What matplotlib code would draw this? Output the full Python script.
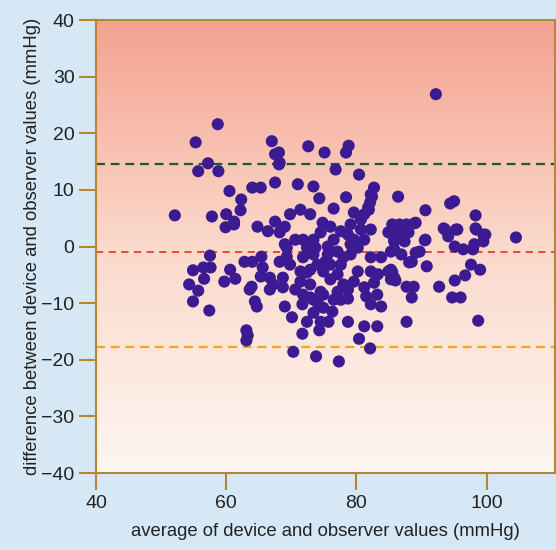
import numpy as np
import matplotlib
matplotlib.use('Agg')
import matplotlib.pyplot as plt
from matplotlib.colors import LinearSegmentedColormap

plt.rcParams['font.family'] = ['Liberation Sans', 'DejaVu Sans']

# average of device and observer values (mmHg)
avg = [52.1, 55.3, 58.7, 57.2, 55.7, 58.8, 60.5, 62.3, 62.2, 57.8,
       60.0, 61.2, 59.9, 64.8, 66.4, 64.0, 65.3, 67.5, 67.0, 67.5,
       68.1, 68.1, 72.6, 75.1, 78.4, 78.8, 76.8, 80.4, 71.0, 73.4,
       74.3, 78.4, 76.5, 82.7, 82.4, 82.1, 81.9, 86.4, 90.6, 94.4,
       95.0, 98.3, 104.5, 92.2, 98.4, 99.5, 93.6, 95.3, 90.6, 95.1,
       96.4, 97.9, 90.8, 97.6, 99.0, 88.1, 89.1, 89.1, 88.9, 90.5,
       93.4, 94.1, 95.5, 98.3, 99.8, 99.5, 98.1, 96.7, 95.1, 92.7,
       94.7, 96.0, 98.7, 87.7, 88.5, 87.7, 88.8, 88.5, 89.7,
       57.5, 54.9, 56.5, 57.6, 56.6, 54.3, 55.7, 54.9, 57.4, 60.6,
       61.4, 59.7, 63.1, 63.3, 63.1, 62.8, 64.0, 65.4, 65.6, 65.3,
       63.9, 63.6, 66.7, 64.4, 64.7, 61.2, 68.2, 82.2, 81.8, 81.2,
       80.7, 71.4, 69.8, 72.9, 67.5, 69.0, 79.6, 79.1, 74.8, 76.0,
       78.7, 80.7, 82.2, 81.2, 84.9, 85.8, 73.4, 74.5, 71.8, 68.2,
       69.0, 69.0, 70.1, 71.7, 74.3, 70.3, 73.8, 77.3, 78.7, 81.2,
       83.2, 80.4, 82.1, 78.7, 81.5, 83.2, 82.2, 83.8, 67.2, 66.7,
       68.7, 70.6, 71.4, 72.9, 74.5, 74.0, 74.9, 76.3, 73.4, 75.7,
       72.4, 74.9, 77.1, 78.0, 79.6, 77.1, 76.5, 80.2, 82.2, 83.3,
       84.9, 85.3, 83.8, 82.2, 85.3, 78.0, 79.1, 69.8, 68.2, 69.3,
       71.8, 73.4, 75.6, 77.1, 74.0, 76.0, 77.6, 72.4, 75.6, 69.3,
       81.2, 82.7, 72.9, 71.8, 71.7, 72.4, 74.5, 68.7, 85.5, 86.6,
       87.7, 85.5, 86.9, 88.0, 85.8, 87.4, 85.8, 86.9, 85.3, 85.8,
       79.6, 80.2, 79.1, 70.6, 73.7, 76.5, 77.6, 75.2, 72.9, 71.4,
       76.0, 77.6, 78.7, 74.9, 73.4, 85.5, 86.0]

# difference between device and observer values (mmHg)
diff = [5.5, 18.4, 21.6, 14.7, 13.3, 13.3, 9.8, 8.3, 6.4, 5.3,
        5.7, 4.4, 3.4, 3.5, 2.7, 10.4, 10.4, 11.3, 18.6, 16.3,
        16.6, 14.5, 17.7, 16.6, 16.6, 17.8, 13.6, 12.7, 11.0, 10.6,
        8.5, 8.7, 6.7, 10.4, 8.8, 7.8, 6.5, 8.8, 6.4, 7.6,
        8.0, 5.5, 1.6, 26.9, 3.0, 2.1, 3.0, 3.0, 1.2, 0.0,
        -0.5, -0.5, -3.5, -3.2, -4.1, -2.8, -1.1, 4.2, 4.1, 1.1,
        3.2, 1.8, 3.0, 3.2, 2.1, 0.9, 0.4, -5.1, -6.0, -7.1,
        -9.0, -9.0, -13.1, -13.3, -2.7, -7.1, -7.1, -9.0, -0.9,
        -1.6, -4.2, -3.7, -3.7, -5.7, -6.7, -7.8, -9.7, -11.3, -4.1,
        -5.7, -6.2, -14.8, -15.7, -16.6, -2.7, -2.7, -1.8, -3.7, -5.3,
        -7.1, -7.6, -7.6, -9.7, -10.6, 3.9, 14.8, 9.2, 6.9, 5.7,
        4.8, 6.5, 5.7, 5.7, 4.4, 3.5, 6.0, 3.9, 4.2, 3.5,
        2.1, 3.0, 3.0, 1.2, 2.5, 1.2, 1.2, 2.5, 1.2, 2.5,
        0.4, -10.6, -12.5, -15.4, -14.8, -18.6, -19.4, -20.3, -13.3, -14.1,
        -14.1, -16.3, -18.0, -9.2, -8.8, -8.5, -10.2, -10.6, -6.7, -5.5,
        -5.5, -7.6, -6.2, -6.7, -8.0, -9.9, -10.8, -11.5, -11.7, -13.3,
        -4.6, -4.4, -4.9, -6.7, -6.2, -8.0, -9.4, -4.4, -4.4, -4.9,
        -4.4, -5.8, -1.9, -1.9, -0.9, -1.9, -1.4, -3.2, -2.7, -1.8,
        -1.9, -1.4, -1.4, -0.9, -3.2, -3.2, -3.2, -0.2, 0.0, -0.2,
        -7.2, -6.4, -9.0, -8.5, -10.2, -13.3, -13.3, -7.2, 3.9, 3.9,
        3.9, 2.5, 2.5, 2.5, 0.9, 0.9, -0.5, -1.4, -4.1, -5.5,
        1.2, -0.2, 0.4, 1.2, -0.2, 1.2, 2.7, -2.7, -4.1, -4.4,
        -5.8, -9.4, -7.6, -8.5, -9.4, -4.5, -6.0]

# mean difference and limits of agreement
upper_loa = 14.5
mean_diff = -0.9
lower_loa = -17.7

xticks = [40, 60, 80, 100]
yticks = [40, 30, 20, 10, 0, -10, -20, -30, -40]

fig = plt.figure(figsize=(5.56, 5.5), dpi=100, facecolor='#d6e8f6')
ax = fig.add_axes([0.1727, 0.14, 0.8255, 0.8236])

xlim = (40, 110.5)
ylim = (-40, 40)

# red-to-white vertical gradient background
bg = LinearSegmentedColormap.from_list('bg', ['#fdf6f1', '#fbd9cb', '#f4a290'])
grad = np.linspace(0, 1, 256).reshape(-1, 1)
ax.imshow(grad, cmap=bg, origin='lower', aspect='auto',
          extent=[xlim[0], xlim[1], ylim[0], ylim[1]], zorder=0)

ax.axhline(upper_loa, color='#1d5a2c', lw=1.6, dashes=(4, 2.6), zorder=2)
ax.axhline(mean_diff, color='#ee3b28', lw=1.3, dashes=(4, 3), zorder=2)
ax.axhline(lower_loa, color='#f2a620', lw=1.6, dashes=(4, 2.6), zorder=2)

ax.scatter(avg, diff, s=76, color='#3c1a92', edgecolors='none', zorder=3)

ax.set_xlim(*xlim)
ax.set_ylim(*ylim)
ax.set_xticks(xticks)
ax.set_yticks(yticks)
ax.set_yticklabels(['40', '30', '20', '10', '0', '\u221210', '\u221220', '\u221230', '\u221240'])

spine_col = '#b8862e'
for s in ax.spines.values():
    s.set_color(spine_col)
    s.set_linewidth(1.5)
ax.tick_params(direction='out', length=12, width=1.5, color=spine_col,
               labelsize=14, labelcolor='#222222', pad=3.5)

ax.set_xlabel('average of device and observer values (mmHg)', fontsize=13.3,
              color='#222222', labelpad=8)
ax.set_ylabel('difference between device and observer values (mmHg)', fontsize=13.3,
              color='#222222', labelpad=0)

fig.savefig('out.png', dpi=100, facecolor=fig.get_facecolor())
